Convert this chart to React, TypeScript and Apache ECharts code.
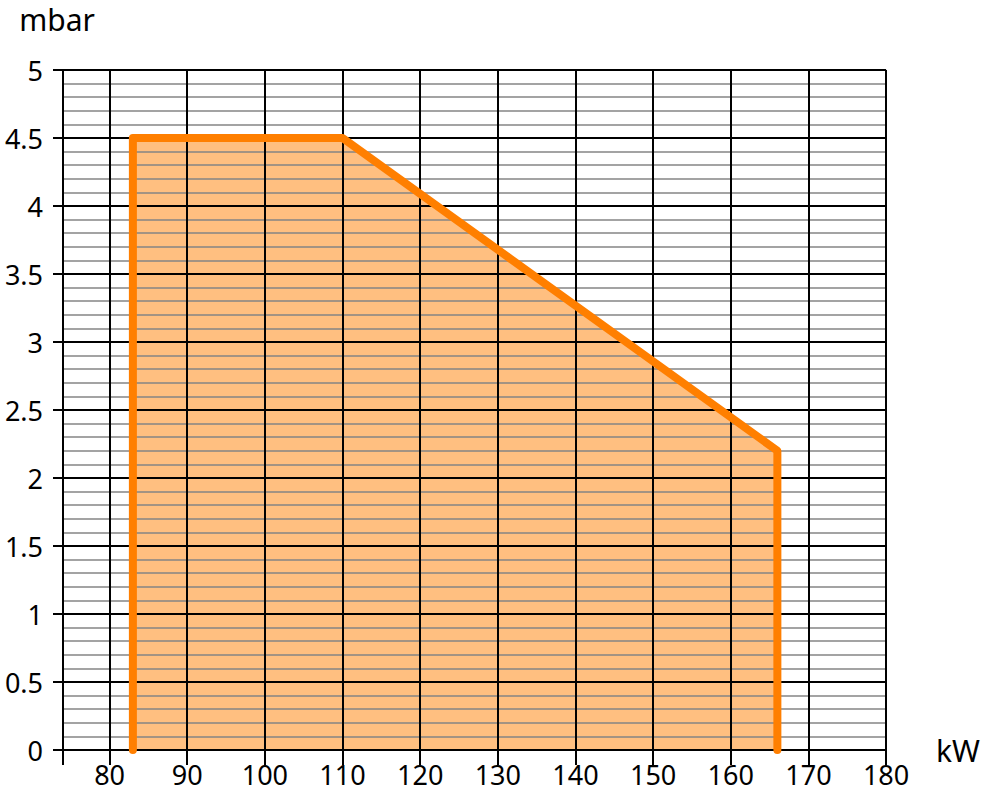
import React, { useEffect, useRef } from "react";
import * as echarts from "echarts";

const loadX = [83, 83, 110, 166, 166];
const loadY = [0, 4.5, 4.5, 2.2, 0];
const xLabelValues = [80, 90, 100, 110, 120, 130, 140, 150, 160, 170, 180];
const xTickValues = [74, 80, 90, 100, 110, 120, 130, 140, 150, 160, 170, 180];
const xMin = 74;
const xMax = 180;
const yMin = 0;
const yMax = 5;
const yInterval = 0.5;

const FONT = "'Noto Sans', 'Open Sans', sans-serif";

export default function App() {
  const ref = useRef<HTMLDivElement>(null);
  useEffect(() => {
    if (!ref.current) return;
    const chart = echarts.init(ref.current, undefined, { renderer: "svg" });
    const pts = loadX.map((x, i) => [x, loadY[i]]);
    chart.setOption({
      animation: false,
      backgroundColor: "#ffffff",
      grid: { left: 63, top: 70, right: 94, bottom: 45, containLabel: false },
      xAxis: {
        type: "value",
        min: xMin,
        max: xMax,
        z: 3,
        name: "kW",
        nameLocation: "end",
        nameGap: 50,
        nameTextStyle: { fontSize: 30, color: "#000", fontFamily: FONT },
        axisLine: { show: true, lineStyle: { color: "#000", width: 2 } },
        axisTick: {
          show: true,
          customValues: xTickValues,
          length: 15,
          lineStyle: { color: "#000", width: 2 },
        },
        axisLabel: {
          customValues: xLabelValues,
          fontSize: 27,
          color: "#000",
          fontFamily: FONT,
          margin: 11,
        },
        splitLine: { show: true, lineStyle: { color: "#000", width: 2 } },
      },
      yAxis: {
        type: "value",
        min: yMin,
        max: yMax,
        interval: yInterval,
        z: 3,
        name: "mbar",
        nameLocation: "end",
        nameGap: 36,
        nameTextStyle: {
          fontSize: 30,
          color: "#000",
          fontFamily: FONT,
          align: "center",
          padding: [0, 12, 0, 0],
        },
        axisLine: { show: true, lineStyle: { color: "#000", width: 2 } },
        axisTick: { show: true, length: 10, lineStyle: { color: "#000", width: 2 } },
        axisLabel: {
          fontSize: 27,
          color: "#000",
          fontFamily: FONT,
          margin: 20,
        },
        splitLine: { show: true, lineStyle: { color: "#000", width: 2 } },
        minorTick: { show: false, splitNumber: 5 },
        minorSplitLine: { show: true, lineStyle: { color: "#858585", width: 1.6 } },
      },
      series: [
        {
          type: "line",
          z: 1,
          data: pts,
          symbol: "none",
          silent: true,
          lineStyle: { width: 0 },
          areaStyle: { color: "#ffbf80", opacity: 1 },
        },
        {
          type: "line",
          z: 5,
          data: pts,
          symbol: "none",
          clip: false,
          lineStyle: { color: "#ff7f00", width: 8, cap: "round", join: "round" },
        },
      ],
    });
    return () => chart.dispose();
  }, []);
  return (
    <div
      ref={ref}
      style={{ position: "fixed", left: 0, top: 0, width: 983, height: 795, background: "#fff" }}
    />
  );
}
